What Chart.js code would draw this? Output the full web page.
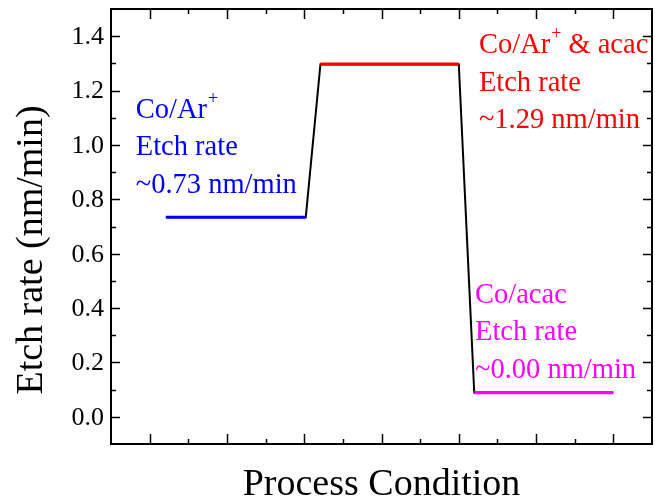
<!DOCTYPE html>
<html>
<head>
<meta charset="utf-8">
<script src="https://cdn.jsdelivr.net/npm/chart.js@4.4.1/dist/chart.umd.min.js"></script>
<style>
  html, body { margin: 0; padding: 0; background: #fff; }
  #wrap { width: 655px; height: 503px; }
</style>
</head>
<body>
<div id="wrap"><canvas id="etchChart" width="655" height="503"></canvas></div>
<script>
// process steps: start / end position on the x axis and the etch rate
var segStart = [1.21, 3.21, 5.20];
var segEnd = [3.02, 5.00, 7.00];
var rates = [0.734, 1.297, 0.089];
var segColors = ['#0000ff', '#ff0000', '#ff00ff'];

// y tick labels
var yTickValues = [0.0, 0.2, 0.4, 0.6, 0.8, 1.0, 1.2, 1.4];
var yTickLabels = ['0.0', '0.2', '0.4', '0.6', '0.8', '1.0', '1.2', '1.4'];
// x ticks carry no labels
var xMajorTicks = [1, 2, 3, 4, 5, 6, 7];

// the text blocks next to each level
var noteLines = [
  [['Co/Ar', '+'], ['Etch rate'], ['~0.73 nm/min']],
  [['Co/Ar', '+', ' & acac'], ['Etch rate'], ['~1.29 nm/min']],
  [['Co/acac'], ['Etch rate'], ['~0.00 nm/min']]
];

var SERIF = '"Liberation Serif", "Times New Roman", serif';

// build datasets from the arrays above
var datasets = [];
var blackPath = [];
for (var i = 0; i < rates.length; i++) {
  datasets.push({
    data: [{x: segStart[i], y: rates[i]}, {x: segEnd[i], y: rates[i]}],
    borderColor: segColors[i],
    borderWidth: 3.2,
    pointRadius: 0,
    order: 1
  });
  blackPath.push({x: segStart[i], y: rates[i]});
  blackPath.push({x: segEnd[i], y: rates[i]});
}
datasets.push({
  data: blackPath,
  borderColor: '#000',
  borderWidth: 2,
  pointRadius: 0,
  order: 2
});

// frame, inward ticks, tick labels, titles and notes
var framePlugin = {
  id: 'frame',
  afterDraw: function(chart) {
    var ctx = chart.ctx;
    var a = chart.chartArea;
    var xs = chart.scales.x, ys = chart.scales.y;
    ctx.save();
    ctx.strokeStyle = '#000';
    ctx.lineWidth = 2;
    ctx.strokeRect(a.left, a.top, a.right - a.left, a.bottom - a.top);

    ctx.lineWidth = 1.5;
    ctx.beginPath();
    // y ticks every 0.1, major every 0.2
    for (var k = 0; k <= 14; k++) {
      var v = k / 10;
      var py = Math.round(ys.getPixelForValue(v)) + 0.5;
      var len = (k % 2 === 0) ? 9 : 5;
      ctx.moveTo(a.left, py); ctx.lineTo(a.left + len, py);
      ctx.moveTo(a.right, py); ctx.lineTo(a.right - len, py);
    }
    // x ticks, major on integers, minor between
    for (var m = 0; m < xMajorTicks.length; m++) {
      var vals = [[xMajorTicks[m], 10]];
      if (m < xMajorTicks.length - 1) vals.push([xMajorTicks[m] + 0.5, 5]);
      vals.forEach(function(p) {
        var px = Math.round(xs.getPixelForValue(p[0])) + 0.5;
        ctx.moveTo(px, a.bottom); ctx.lineTo(px, a.bottom - p[1]);
        ctx.moveTo(px, a.top); ctx.lineTo(px, a.top + p[1]);
      });
    }
    ctx.stroke();

    // y tick labels
    ctx.fillStyle = '#000';
    ctx.font = '26px ' + SERIF;
    ctx.textAlign = 'right';
    ctx.textBaseline = 'middle';
    for (var t = 0; t < yTickValues.length; t++) {
      ctx.fillText(yTickLabels[t], a.left - 7, ys.getPixelForValue(yTickValues[t]) + 1);
    }

    // axis titles
    ctx.font = '38px ' + SERIF;
    ctx.textAlign = 'center';
    ctx.textBaseline = 'alphabetic';
    ctx.fillText('Process Condition', (a.left + a.right) / 2, 495);
    ctx.save();
    ctx.translate(42, 250);
    ctx.rotate(-Math.PI / 2);
    ctx.fillText('Etch rate (nm/min)', 0, 0);
    ctx.restore();

    // notes
    var notePos = [[0.82, 1.10], [5.26, 1.338], [5.21, 0.419]];
    ctx.textAlign = 'left';
    for (var n = 0; n < noteLines.length; n++) {
      ctx.fillStyle = segColors[n];
      var x0 = xs.getPixelForValue(notePos[n][0]);
      var y0 = ys.getPixelForValue(notePos[n][1]);
      for (var l = 0; l < noteLines[n].length; l++) {
        var parts = noteLines[n][l];
        var cx = x0, cy = y0 + l * 37.5;
        for (var q = 0; q < parts.length; q++) {
          if (parts[q] === '+') {
            ctx.font = '18px ' + SERIF;
            ctx.fillText('+', cx + 1, cy - 14);
            cx += ctx.measureText('+').width + 1;
          } else {
            ctx.font = '28.5px ' + SERIF;
            ctx.fillText(parts[q], cx, cy);
            cx += ctx.measureText(parts[q]).width;
          }
        }
      }
    }
    ctx.restore();
  }
};

var ctx = document.getElementById('etchChart').getContext('2d');
var myChart = new Chart(ctx, {
  type: 'line',
  data: { datasets: datasets },
  options: {
    responsive: false,
    animation: false,
    layout: { padding: { left: 111, right: 3, top: 9, bottom: 59 } },
    plugins: { legend: { display: false }, tooltip: { enabled: false } },
    elements: { line: { tension: 0, borderCapStyle: 'butt' } },
    scales: {
      x: { type: 'linear', min: 0.5, max: 7.5, display: false },
      y: { type: 'linear', min: -0.1, max: 1.5, display: false }
    }
  },
  plugins: [framePlugin]
});
</script>
</body>
</html>
